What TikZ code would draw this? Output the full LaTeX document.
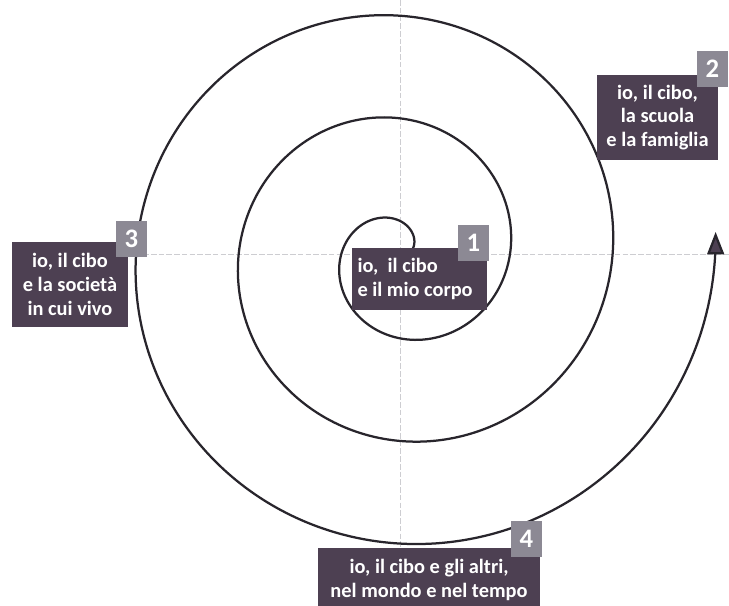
\documentclass[tikz,border=0pt]{standalone}
\usepackage{fontspec}
\setmainfont{Carlito}
\usepackage{tikz}
\usetikzlibrary{arrows.meta, positioning}
\definecolor{stagefill}{RGB}{77,64,82}
\definecolor{tabfill}{RGB}{140,137,148}
\definecolor{spiralink}{RGB}{40,37,44}
\definecolor{axisgray}{RGB}{205,205,209}
\tikzset{
    spiral/.style    = {draw = spiralink, line width = 1.6pt, line join = round},
    axis/.style      = {draw = axisgray, line width = 0.5pt, dash pattern = on 4pt off 1.5pt},
    stage box/.style = {fill = stagefill, text = white, font = \fontsize{14.5}{17}\selectfont\bfseries, inner sep = 0pt, align = center},
    stage tab/.style = {fill = tabfill, text = white, font = \fontsize{19}{19}\selectfont\bfseries, minimum width = 0.78cm, minimum height = 0.92cm, inner sep = 0pt, anchor = south east}
}

\begin{document}
\begin{tikzpicture}
		\useasboundingbox[fill=white] (-10,-8.775) rectangle (8.225,6.35);
		\draw[axis] (-7,0) -- (8.225,0);
		\draw[axis] (0,6.35) -- (0,-7.35);

		\draw[spiral, -{Triangle[width=12pt, length=16pt, fill=stagefill]}]
			plot[domain=0:1084, samples=400, smooth, variable=\t] (\t:{0.185+0.007125*\t});

		\node[stage box, align=flush left, text width=3.1cm, inner xsep=0.1375cm, minimum height=1.55cm] (b1) at (0.4875,-0.625) {io,\ \ il cibo\\e il mio corpo};
		\node[stage box, minimum width=3.025cm, minimum height=2.125cm] (b2) at (6.4375,3.4125) {io, il cibo,\\la scuola\\e la famiglia};
		\node[stage box, minimum width=2.9cm, minimum height=2.125cm] (b3) at (-8.25,-0.7625) {io, il cibo\\e la società\\in cui vivo};
		\node[stage box, minimum width=5.55cm, minimum height=1.6cm] (b4) at (0.725,-8.15) {io, il cibo e gli altri,\\nel mondo e nel tempo};

		\node[stage tab] (t1) at ([shift={(0.05,-0.35)}]b1.north east) {1};
		\node[stage tab] (t2) at ([shift={(0.25,-0.325)}]b2.north east) {2};
		\node[stage tab] (t3) at ([shift={(0.475,-0.4)}]b3.north east) {3};
		\node[stage tab] (t4) at ([shift={(0.05,-0.25)}]b4.north east) {4};
	\end{tikzpicture}
\end{document}
